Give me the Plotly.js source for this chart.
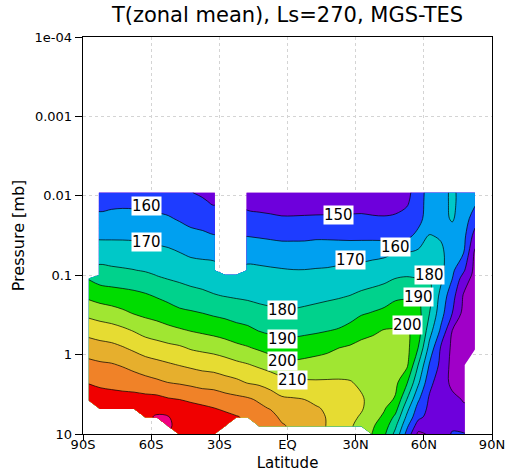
<!DOCTYPE html>
<html><head><meta charset="utf-8">
<script src="https://cdn.plot.ly/plotly-3.0.1.min.js"></script>
<style>html,body{margin:0;padding:0;background:#fff}#chart{width:507px;height:472px}</style>
</head><body><div id="chart"></div>
<script>
const N = null;
// latitude grid (deg, S negative)
const latitudes = [-87.5,-82.5,-77.5,-72.5,-67.5,-62.5,-57.5,-52.5,-47.5,-42.5,-37.5,-32.5,-27.5,-22.5,-17.5,-12.5,-7.5,-2.5,2.5,7.5,12.5,17.5,22.5,27.5,32.5,37.5,42.5,47.5,52.5,57.5,62.5,67.5,72.5,77.5,82.5];
// pressure levels (mb)
const pressures = [10,7.788,6.065,4.724,3.679,2.231,1.353,0.8208,0.4979,0.3020,0.1832,0.1111,0.1,0.08652,0.05248,0.03183,0.01930,0.01171,0.009119];
// temperature (K) per pressure level, one value per latitude (null = no data)
const T_p10_000 = [N,N,N,N,N,N,N,N,248,248,247.5,247,N,N,N,N,N,N,N,N,N,N,N,N,N,199.5,192,177,157,138,141,143.5,151,150.5,N];
const T_p07_788 = [N,N,N,N,N,N,N,251,248,247.5,246.5,245.5,244,N,N,237.5,236,231,228,226,223.5,219.5,215.5,211,207.5,201,195.5,182,162.5,145.5,145,143,148,147,N];
const T_p06_065 = [N,N,N,N,N,249,250.5,250.3,247,246.5,245,244,242.5,240.5,238.6,234.5,233.5,227.8,226,224.5,222.5,219.5,215.5,212.5,209,203.5,198.5,188,168.3,152.9,146.5,143,146,144,N];
const T_p04_724 = [N,247,246.9,246.9,247.5,248,248.5,246.5,245,243.5,242,240.2,238.3,236.6,235,232,229.3,224.6,224,223,221,218.5,215,213.5,211,205.5,201,194,173.6,156.4,147.8,143,144,141,N];
const T_p03_679 = [245,244.4,243.7,243.4,243.6,243.1,243,241,240,238.2,236.5,235.9,234,232.6,231.4,228.7,224.7,221.4,221,220,217.6,216,214,213,211,207,203.5,199,180,161.4,148.5,144,142,139.5,N];
const T_p02_231 = [239.5,238,237.3,236.4,235.2,233.5,231.7,229.8,228.8,227.6,226.2,225.5,223.5,222,219.3,218.1,216.2,213.8,211.4,211.3,211,211,211,210.5,208.5,207.5,205.5,202.5,191.4,172,152.9,144.4,138,136,N];
const T_p01_353 = [232.8,231.6,230.9,229.2,226.7,224.2,222.7,221.2,219.7,218.2,216.8,216,214.4,212.4,210.7,208.4,205.9,202.5,202.3,203,203.9,204.8,205.5,205.9,205.7,206,205.5,204,202,180,159,147.5,137,134,N];
const T_p0_8208 = [225.1,223.6,222.6,220.6,218.1,215.6,214.1,212.6,211.3,209,207.8,206.6,204.8,202.5,200.7,198.5,196.1,194.4,194.1,195.1,196.3,197.7,199.9,201.2,202.2,204,204.5,204,203,190,166.7,149,138,134,132];
const T_p0_4979 = [216.5,215,214,212,209.4,206.5,204.7,202.6,201.2,199.6,198.3,197,195.4,193.4,192.2,189.6,188.2,187.1,187.4,188,188.7,189.7,190.8,193.2,197.5,198.3,200.5,201,201.5,195,174,158.3,140,135,132];
const T_p0_3020 = [207.5,205.7,204.1,201.9,199.5,197.7,196.3,194.5,192,191.2,190.1,188.6,187.5,186,184.7,182.9,181.8,180.9,181.2,181.9,182.9,183.9,184.7,186.2,189,190.7,192.5,194,196.2,193.5,180,163.8,150,137,133];
const T_p0_1832 = [198,195.8,194.7,193.7,192.6,191.3,189.3,187.2,185.4,183.7,182.4,180.7,179.8,179,178.4,177.7,177.3,176.8,176.8,177.2,177.7,178.4,179.2,180.2,181.9,183.3,185,188.5,188.8,190,182.9,166.7,153.8,139,134];
const T_p0_1111 = [189.6,186.7,185.9,185.3,184.7,183.2,181.1,179.8,178.5,177.1,176.3,175.7,175,174.7,174.1,173.6,173.2,172.7,172.4,172.5,172.7,173.9,174.9,175.1,175.9,176.8,178,180.2,180.6,180.4,180.8,172,160,145,136];
const T_p0_1000 = [N,185.3,184.5,183.8,183.2,181.7,179.8,178.9,177.5,176.1,175.4,174.8,174.3,173.8,173.4,173,172.6,172.1,171.9,171.8,172.1,173.2,174.1,174.1,175,175.8,177,178.7,179.6,178.5,179.5,172.5,161,148,136.5];
const T_p0_0865 = [N,182.5,181.6,180.9,180.2,179.2,178,177.2,175.7,174.2,173.6,173.1,N,N,172,171.6,171.1,170.6,170.2,170.2,170.6,170.9,171.8,172.4,173.1,174.2,175,176.7,177.3,176,177,173,162,151.5,137];
const T_p0_0525 = [N,175.1,174.7,174.5,174.2,173.5,172.5,171.7,170.2,168.5,167.9,167.4,N,N,166.4,166,165.2,164.6,164.6,164.3,164.7,164.9,165.2,165.7,166.2,167.1,168,170.1,170.5,172,174,172,165,160,138];
const T_p0_0318 = [N,168.4,168.5,168.5,168.3,167.9,167.1,166.3,164.6,162.7,161.6,160.4,N,N,159.7,159.1,158.5,157.9,157.9,158.1,158.6,158.5,158.2,157.8,157.7,157.4,156.9,156.6,157.2,163,170.5,169,166,163,146];
const T_p0_0193 = [N,162.4,162.9,163.1,163,162.5,161.8,160.9,159,157,156.4,154.5,N,N,153.1,152.5,151.8,151,151,151.2,151.4,151.5,151.8,151.9,152.2,151.3,150.9,151.5,153.1,156,166,167,171,165,155];
const T_p0_0117 = [N,156.3,157.4,157.8,157.6,157.1,156.6,155.6,153.5,152,151.2,148.6,N,N,146.5,145.7,145.1,144.3,144.3,144.5,144.6,144.6,144.7,144.3,144.5,144.4,144.8,145.8,148.5,155.5,164.5,166,172,166,162];
const T_p0_0091 = [N,153.2,154.6,155.1,154.9,154.4,153.9,152.9,150.7,150.3,148.5,145.6,N,N,143.2,142.3,141.8,141,141,141.2,141.3,141.3,141.4,141,141.1,141.1,141.8,143,147,155.5,164,166,172,166,164];

// contour levels and band colours (GrADS rainbow)
const levelStart = 140, levelEnd = 250, levelStep = 10;
const bandColors = ['#a000c8','#6e00dc','#1e3cff','#00a0f0','#00c8c8','#00d28c','#00dc00','#a0e632','#e6dc32','#e6af2d','#f08228','#f00000','#f00082'];

// contour labels
const labelText = ['160','170','150','160','170','180','190','200','180','190','200','210'];
const labelLat  = [-62.2,-62.2,22.6,47.7,27.7,62.6,57.6,52.7,-2.4,-2.4,-2.4,2.4];
const labelP    = [0.01352,0.0384,0.0173,0.0437,0.0638,0.0986,0.189,0.42,0.272,0.640,1.19,2.07];

// axis ticks
const xTickVals = [-90,-60,-30,0,30,60,90];
const xTickText = ['90S','60S','30S','EQ','30N','60N','90N'];
const yTickVals = [1e-4,1e-3,1e-2,0.1,1,10];
const yTickText = ['1e-04','0.001','0.01','0.1','1','10'];

const z = [T_p10_000,T_p07_788,T_p06_065,T_p04_724,T_p03_679,T_p02_231,T_p01_353,T_p0_8208,T_p0_4979,T_p0_3020,T_p0_1832,T_p0_1111,T_p0_1000,T_p0_0865,T_p0_0525,T_p0_0318,T_p0_0193,T_p0_0117,T_p0_0091];

const nb = bandColors.length - 1;
const colorscale = bandColors.map((c, j) => [j / nb, c]);

const FONT = 'DejaVu Sans, sans-serif';

const trace = {
  type: 'contour',
  x: latitudes,
  y: pressures,
  z: z,
  connectgaps: false,
  autocontour: false,
  contours: {start: levelStart, end: levelEnd, size: levelStep, coloring: 'fill', showlines: true},
  line: {color: '#000', width: 0.7, smoothing: 1},
  colorscale: colorscale,
  showscale: false,
  hoverinfo: 'skip'
};

const annotations = labelText.map((t, i) => ({
  x: labelLat[i], y: Math.log10(labelP[i]), xref: 'x', yref: 'y',
  text: t, showarrow: false, bgcolor: '#ffffff', borderpad: 0,
  font: {family: FONT, size: 15, color: '#000'}
}));

const layout = {
  width: 507, height: 472,
  margin: {l: 83, r: 15, t: 37, b: 38},
  paper_bgcolor: '#fff', plot_bgcolor: '#fff',
  showlegend: false,
  title: {text: 'T(zonal mean), Ls=270, MGS-TES', x: 0.5, xref: 'paper', xanchor: 'center',
          y: 1 - 15/472, yref: 'container', yanchor: 'middle',
          font: {family: FONT, size: 21, color: '#000'}},
  xaxis: {range: [-90, 90], tickvals: xTickVals, ticktext: xTickText, ticks: 'outside', ticklen: 5,
          ticklabelstandoff: -7,
          tickcolor: '#000', tickwidth: 1, showline: true, mirror: true, linecolor: '#000', linewidth: 1.3,
          showgrid: true, gridcolor: '#d4d4d4', griddash: 'dot', gridwidth: 1, zeroline: false,
          tickfont: {family: FONT, size: 13, color: '#000'},
          title: {text: 'Latitude', font: {family: FONT, size: 15, color: '#000'}, standoff: 7}},
  yaxis: {type: 'log', range: [1, -4], tickvals: yTickVals, ticktext: yTickText, ticks: 'outside', ticklen: 7,
          tickcolor: '#000', tickwidth: 1, showline: true, mirror: true, linecolor: '#000', linewidth: 1.3,
          showgrid: true, gridcolor: '#d4d4d4', griddash: 'dot', gridwidth: 1, zeroline: false,
          tickfont: {family: FONT, size: 13, color: '#000'},
          title: {text: 'Pressure [mb]', font: {family: FONT, size: 16, color: '#000'}, standoff: 6}},
  annotations: annotations
};

Plotly.newPlot('chart', [trace], layout, {staticPlot: true, displayModeBar: false});
</script>
</body></html>
